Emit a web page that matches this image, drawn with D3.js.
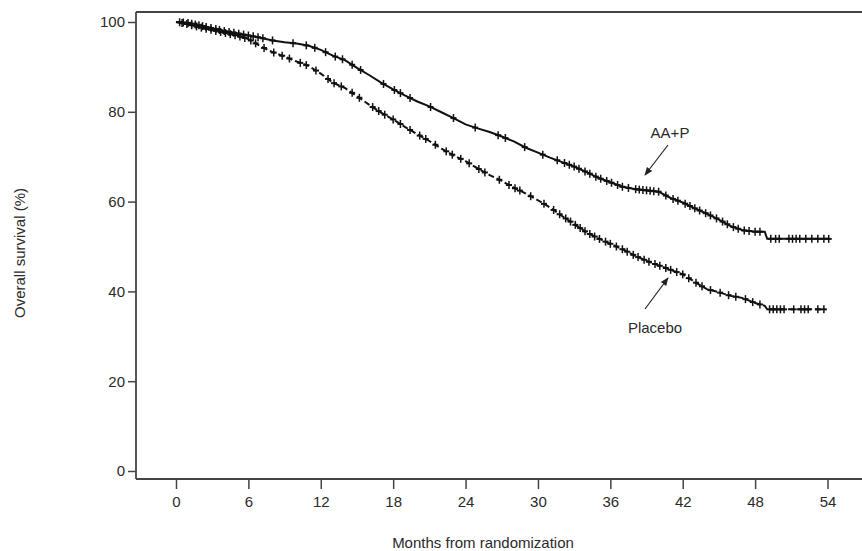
<!DOCTYPE html>
<html><head><meta charset="utf-8">
<script src="https://cdn.jsdelivr.net/npm/d3@7"></script>
<style>html,body{margin:0;padding:0;background:#fff;}svg{display:block;font-family:"Liberation Sans",Arial,sans-serif;}</style>
</head><body>
<svg id="c" width="862" height="551"></svg>
<script>
// ---- data ----
const xTicks = [0, 6, 12, 18, 24, 30, 36, 42, 48, 54];
const yTicks = [0, 20, 40, 60, 80, 100];
const aaMonths = [0,1,2,3,4,5,6,7,8,9,10,11,12,13,14,15,16,17,18,19,20,21,22,23,24,25,26,27,28,29,30,31,32,33,34,35,36,37,38,39,40,41,42,43,44,45,46,47,48,48.8,49,54.1];
const aaSurv   = [100,99.8,99.2,98.6,98.0,97.5,97.0,96.5,95.9,95.5,95.2,94.7,93.8,92.5,91.5,89.8,88.2,86.5,85.0,83.6,82.3,81.2,79.9,78.6,77.2,76.3,75.5,74.5,73.4,72.0,70.9,69.8,68.8,67.8,66.6,65.3,64.3,63.3,62.8,62.5,62.2,60.8,59.8,58.5,57.3,56.0,54.5,53.6,53.3,53.3,51.7,51.7];
const plMonths = [0,1,2,3,4,5,6,7,8,9,10,11,12,13,14,15,16,17,18,19,20,21,22,23,24,25,26,27,28,29,30,31,32,33,34,35,36,37,38,39,40,41,42,43,44,45,46,47,48,48.8,49,53.7];
const plSurv   = [100,99.5,98.8,98.2,97.6,97.0,96.2,94.6,93.3,92.3,91.2,90.2,88.5,86.5,85.3,83.5,81.6,79.8,78.3,76.6,75.0,73.5,71.8,70.3,69.0,67.4,65.9,64.6,63.1,61.8,60.3,58.7,56.8,55.0,53.2,51.8,50.6,49.4,48.0,46.8,45.8,44.8,43.8,42.1,40.5,39.8,39.0,38.5,37.4,36.8,36.0,36.0];
const aaCensor = [0.3,0.6,1.0,1.3,1.6,1.9,2.2,2.5,2.9,3.3,3.6,4.0,4.4,4.8,5.2,5.6,6.0,6.4,6.8,7.2,8.0,9.7,10.8,11.5,12.4,13.2,13.8,14.6,15.3,17.2,18.1,18.6,19.4,21.1,23.0,24.8,26.7,27.3,28.9,30.4,31.6,32.2,32.6,33.0,33.4,33.9,34.3,34.8,35.2,35.7,36.1,36.6,37.0,37.5,38.1,38.4,38.7,39.0,39.3,39.6,40.0,40.6,41.2,41.6,42.2,42.6,43.0,43.4,43.9,44.3,44.8,45.3,45.7,46.2,46.6,47.1,47.5,48.0,48.4,49.3,49.7,50.0,50.8,51.1,51.4,51.7,52.2,52.7,53.2,53.7,54.1];
const plCensor = [0.5,0.9,1.3,1.7,2.1,2.5,2.9,3.3,3.7,4.1,4.5,4.9,5.3,5.7,6.2,6.6,7.3,8.1,8.8,9.4,10.3,10.8,11.6,12.6,13.1,13.7,14.6,15.2,16.3,16.8,17.3,18.0,18.6,19.4,20.2,20.7,21.5,22.4,22.9,23.6,24.3,25.1,25.6,26.8,27.6,28.1,28.5,29.4,30.5,31.3,31.8,32.3,32.7,33.1,33.5,33.9,34.3,34.7,35.1,35.6,36.0,36.5,37.0,37.4,37.9,38.3,38.8,39.2,39.7,40.1,40.6,41.0,41.5,42.0,42.5,43.1,43.6,44.3,45.1,45.8,46.4,47.2,47.8,48.4,49.2,49.5,49.8,50.1,50.4,51.2,51.8,52.1,52.4,53.2,53.7];
const seriesNames = ["AA+P", "Placebo"];
const xTitle = "Months from randomization";
const yTitle = "Overall survival (%)";

// ---- chart ----
const svg = d3.select("#c");
const x = d3.scaleLinear().domain([0, 54]).range([176, 827.5]);
const y = d3.scaleLinear().domain([0, 100]).range([471, 22]);
const frameLeft = 136, frameTop = 12, frameBottom = 479, frameRight = 862;
const axisColor = "#444", textColor = "#2a2a2a";

// frame lines
svg.append("line").attr("x1", frameLeft).attr("x2", frameLeft).attr("y1", frameTop).attr("y2", frameBottom)
  .attr("stroke", axisColor).attr("stroke-width", 1.8);
svg.append("line").attr("x1", frameLeft).attr("x2", frameRight).attr("y1", frameTop).attr("y2", frameTop)
  .attr("stroke", axisColor).attr("stroke-width", 1.8);
svg.append("line").attr("x1", frameLeft).attr("x2", frameRight).attr("y1", frameBottom).attr("y2", frameBottom)
  .attr("stroke", axisColor).attr("stroke-width", 1.8);

// x axis
const gx = svg.append("g").attr("transform", `translate(0,${frameBottom})`)
  .call(d3.axisBottom(x).tickValues(xTicks).tickSize(10).tickPadding(7));
gx.select(".domain").remove();
gx.selectAll(".tick line").attr("stroke", axisColor).attr("stroke-width", 1.5);
gx.selectAll(".tick text").attr("fill", textColor).style("font-size", "15px");

// y axis
const gy = svg.append("g").attr("transform", `translate(${frameLeft},0)`)
  .call(d3.axisLeft(y).tickValues(yTicks).tickSize(8).tickPadding(3));
gy.select(".domain").remove();
gy.selectAll(".tick line").attr("stroke", axisColor).attr("stroke-width", 1.5);
gy.selectAll(".tick text").attr("fill", textColor).style("font-size", "15px");

// axis titles
svg.append("text").attr("x", 483).attr("y", 548).attr("text-anchor", "middle")
  .attr("fill", textColor).style("font-size", "15px").text(xTitle);
svg.append("text").attr("transform", "translate(25,253) rotate(-90)").attr("text-anchor", "middle")
  .attr("fill", textColor).style("font-size", "15px").text(yTitle);

// curves
const series = [
  {months: aaMonths, surv: aaSurv, censor: aaCensor, dash: null},
  {months: plMonths, surv: plSurv, censor: plCensor, dash: "6,3"}
];
const line = d3.line().x(d => x(d[0])).y(d => y(d[1]));
const bis = d3.bisector(d => d).left;
function valueAt(s, t) {
  let i = bis(s.months, t);
  if (i <= 0) return s.surv[0];
  if (i >= s.months.length) return s.surv[s.surv.length - 1];
  const t0 = s.months[i - 1], t1 = s.months[i];
  const f = (t - t0) / (t1 - t0);
  return s.surv[i - 1] + f * (s.surv[i] - s.surv[i - 1]);
}
series.forEach(s => {
  const pts = s.months.map((m, i) => [m, s.surv[i]]);
  svg.append("path").datum(pts).attr("d", line).attr("fill", "none")
    .attr("stroke", "#111").attr("stroke-width", 2)
    .attr("stroke-dasharray", s.dash);
  svg.append("g").selectAll("line").data(s.censor).join("line")
    .attr("x1", t => x(t)).attr("x2", t => x(t))
    .attr("y1", t => y(valueAt(s, t)) - 4).attr("y2", t => y(valueAt(s, t)) + 4)
    .attr("stroke", "#111").attr("stroke-width", 1.5);
  svg.append("g").selectAll("line").data(s.censor).join("line")
    .attr("x1", t => x(t) - 3).attr("x2", t => x(t) + 3)
    .attr("y1", t => y(valueAt(s, t))).attr("y2", t => y(valueAt(s, t)))
    .attr("stroke", "#111").attr("stroke-width", 2);
});

// annotations
svg.append("defs").append("marker").attr("id", "ah").attr("viewBox", "0 0 10 10")
  .attr("refX", 9).attr("refY", 5).attr("markerWidth", 7).attr("markerHeight", 7)
  .attr("orient", "auto").append("path").attr("d", "M0,1 L10,5 L0,9 Z").attr("fill", "#222");
svg.append("text").attr("x", 670).attr("y", 138).attr("text-anchor", "middle")
  .attr("fill", textColor).style("font-size", "15px").text(seriesNames[0]);
svg.append("line").attr("x1", 668).attr("y1", 145).attr("x2", 645).attr("y2", 175)
  .attr("stroke", "#222").attr("stroke-width", 1.2).attr("marker-end", "url(#ah)");
svg.append("text").attr("x", 655).attr("y", 333).attr("text-anchor", "middle")
  .attr("fill", textColor).style("font-size", "15px").text(seriesNames[1]);
svg.append("line").attr("x1", 645).attr("y1", 309).attr("x2", 668).attr("y2", 278)
  .attr("stroke", "#222").attr("stroke-width", 1.2).attr("marker-end", "url(#ah)");
</script>
</body></html>
